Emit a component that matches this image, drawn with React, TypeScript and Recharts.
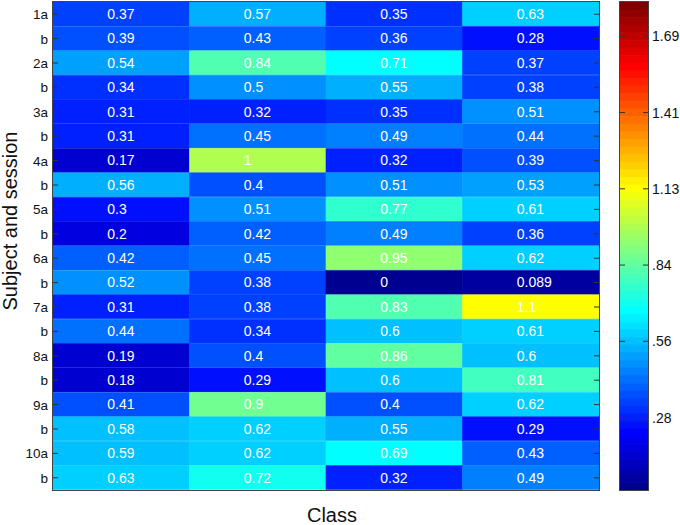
import { Bar, BarChart, Cell, LabelList, XAxis, YAxis } from "recharts";

const sessions = ["1a", "b", "2a", "b", "3a", "b", "4a", "b", "5a", "b", "6a", "b", "7a", "b", "8a", "b", "9a", "b", "10a", "b"];
const classLabels = ["1 (<.27)", "2 (<.32)", "3 (<.25)", "4 (<.37)"];
const classOne = [0.37, 0.39, 0.54, 0.34, 0.31, 0.31, 0.17, 0.56, 0.3, 0.2, 0.42, 0.52, 0.31, 0.44, 0.19, 0.18, 0.41, 0.58, 0.59, 0.63];
const classTwo = [0.57, 0.43, 0.84, 0.5, 0.32, 0.45, 1, 0.4, 0.51, 0.42, 0.45, 0.38, 0.38, 0.34, 0.4, 0.29, 0.9, 0.62, 0.62, 0.72];
const classThree = [0.35, 0.36, 0.71, 0.55, 0.35, 0.49, 0.32, 0.51, 0.77, 0.49, 0.95, 0, 0.83, 0.6, 0.86, 0.6, 0.4, 0.55, 0.69, 0.32];
const classFour = [0.63, 0.28, 0.37, 0.38, 0.51, 0.44, 0.39, 0.53, 0.61, 0.36, 0.62, 0.089, 1.13, 0.61, 0.6, 0.81, 0.62, 0.29, 0.43, 0.49];
const columns = [classOne, classTwo, classThree, classFour];
const classTicks = [0.5, 1.5, 2.5, 3.5];

// colorbar labels, keyed by the 1-based colormap level they sit on
const barTickLabels: Record<number, string> = { 10: ".28", 20: ".56", 30: ".84", 40: "1.13", 50: "1.41", 60: "1.69" };

const JET = [
  "#000090", "#0000a0", "#0000b0", "#0000c0", "#0000d0", "#0000e0", "#0000f0", "#0000ff",
  "#0010ff", "#0020ff", "#0030ff", "#0040ff", "#0050ff", "#0060ff", "#0070ff", "#0080ff",
  "#0090ff", "#00a0ff", "#00b0ff", "#00c0ff", "#00d0ff", "#00e0ff", "#00f0ff", "#00ffff",
  "#10fff0", "#20ffe0", "#30ffd0", "#40ffc0", "#50ffb0", "#60ffa0", "#70ff90", "#80ff80",
  "#90ff70", "#a0ff60", "#b0ff50", "#c0ff40", "#d0ff30", "#e0ff20", "#f0ff10", "#ffff00",
  "#fff000", "#ffe000", "#ffd000", "#ffc000", "#ffb000", "#ffa000", "#ff9000", "#ff8000",
  "#ff7000", "#ff6000", "#ff5000", "#ff4000", "#ff3000", "#ff2000", "#ff1000", "#ff0000",
  "#f00000", "#e00000", "#d00000", "#c00000", "#b00000", "#a00000", "#900000", "#800000",
];

const rows = sessions.map((session, i) => ({
  row: i,
  session,
  c0: classOne[i],
  c1: classTwo[i],
  c2: classThree[i],
  c3: classFour[i],
}));
const levels = JET.map((color, i) => ({ level: i + 1, color })).reverse();

const FONT = "Liberation Sans, Arial, sans-serif";
const TICK = "#333";
const LEFT = 53;
const RIGHT = 599;
const TOP = 2;
const BOTTOM = 490;
const BAR_LEFT = 620;
const BAR_RIGHT = 648;

const colorFor = (v: number) => JET[Math.min(63, Math.max(0, Math.round(36.5 * v - 1.5) - 1))];
const shortNum = (v: number) => String(Number(v.toPrecision(2)));

function CellText(props: any) {
  const { x, y, width, height, value } = props;
  return (
    <text x={x + width / 2 - 14} y={y + height / 2 + 5} fill="#fff" fontSize={14} fontFamily={FONT}>
      {shortNum(Number(value))}
    </text>
  );
}

function RowTick(props: any) {
  const { y, payload } = props;
  return (
    <g>
      <line x1={LEFT} x2={LEFT + 5} y1={y} y2={y} stroke={TICK} />
      <line x1={RIGHT - 5} x2={RIGHT} y1={y} y2={y} stroke={TICK} />
      <text x={LEFT - 5} y={y + 5} textAnchor="end" fontSize={13.5} fontFamily={FONT} fill="#111">
        {sessions[payload.value]}
      </text>
    </g>
  );
}

function ClassTick(props: any) {
  const { x, payload } = props;
  return (
    <g>
      <line x1={x} x2={x} y1={TOP} y2={TOP + 5} stroke={TICK} />
      <line x1={x} x2={x} y1={BOTTOM - 5} y2={BOTTOM} stroke={TICK} />
      <text x={x} y={507} textAnchor="middle" fontSize={13.5} fontFamily={FONT} fill="#111">
        {classLabels[classTicks.indexOf(payload.value)]}
      </text>
    </g>
  );
}

function LevelTick(props: any) {
  const { y, payload } = props;
  const label = barTickLabels[payload.value];
  if (!label) return <g />;
  return (
    <g>
      <line x1={BAR_LEFT} x2={BAR_LEFT + 5} y1={y} y2={y} stroke={TICK} />
      <line x1={BAR_RIGHT - 5} x2={BAR_RIGHT} y1={y} y2={y} stroke={TICK} />
      <text x={BAR_RIGHT + 4} y={y + 5} fontSize={14} fontFamily={FONT} fill="#111">
        {label}
      </text>
    </g>
  );
}

const layer: React.CSSProperties = { position: "absolute", left: 0, top: 0 };

export default function App() {
  return (
    <div style={{ position: "absolute", left: 0, top: 0, width: 680, height: 525, background: "#fff", overflow: "hidden" }}>
      {/* heatmap cells */}
      <div style={layer}>
        <BarChart
          width={680}
          height={525}
          data={rows}
          layout="vertical"
          barCategoryGap={0}
          margin={{ top: TOP, right: 680 - RIGHT, bottom: 525 - BOTTOM, left: LEFT }}
        >
          <XAxis type="number" domain={[0, 4]} hide />
          <YAxis type="category" dataKey="row" hide />
          {columns.map((col, c) => (
            <Bar key={c} dataKey={() => 1} stackId="grid" isAnimationActive={false}>
              {col.map((v, i) => (
                <Cell key={i} fill={colorFor(v)} stroke={colorFor(v)} strokeWidth={0.6} />
              ))}
              <LabelList dataKey={`c${c}`} content={<CellText />} />
            </Bar>
          ))}
        </BarChart>
      </div>

      {/* axes drawn on top of the cells, ticks point inward */}
      <div style={layer}>
        <BarChart
          width={680}
          height={525}
          data={rows}
          layout="vertical"
          barCategoryGap={0}
          margin={{ top: TOP, right: 680 - RIGHT, bottom: 0, left: 0 }}
        >
          <XAxis type="number" domain={[0, 4]} ticks={classTicks} height={525 - BOTTOM} axisLine={false} tickLine={false} tick={<ClassTick />} />
          <YAxis type="category" dataKey="row" width={LEFT} interval={0} axisLine={false} tickLine={false} tick={<RowTick />} />
        </BarChart>
      </div>

      {/* colorbar */}
      <div style={layer}>
        <BarChart
          width={680}
          height={525}
          data={levels}
          layout="vertical"
          barCategoryGap={0}
          margin={{ top: TOP, right: 680 - BAR_RIGHT, bottom: 525 - BOTTOM, left: BAR_LEFT }}
        >
          <XAxis type="number" domain={[0, 1]} hide />
          <YAxis type="category" dataKey="level" hide />
          <Bar dataKey={() => 1} isAnimationActive={false}>
            {levels.map((l) => (
              <Cell key={l.level} fill={l.color} stroke={l.color} strokeWidth={0.6} />
            ))}
          </Bar>
        </BarChart>
      </div>
      <div style={layer}>
        <BarChart
          width={680}
          height={525}
          data={levels}
          layout="vertical"
          barCategoryGap={0}
          margin={{ top: TOP, right: 680 - BAR_RIGHT, bottom: 525 - BOTTOM, left: 0 }}
        >
          <XAxis type="number" domain={[0, 1]} hide />
          <YAxis type="category" dataKey="level" width={BAR_LEFT} interval={0} axisLine={false} tickLine={false} tick={<LevelTick />} />
        </BarChart>
      </div>

      {/* frames */}
      <div style={{ position: "absolute", left: LEFT - 1, top: TOP - 1, width: RIGHT - LEFT, height: BOTTOM - TOP, border: "1px solid #444", pointerEvents: "none" }} />
      <div style={{ position: "absolute", left: BAR_LEFT - 1, top: TOP - 1, width: BAR_RIGHT - BAR_LEFT, height: BOTTOM - TOP, border: "1px solid #444", pointerEvents: "none" }} />

      <div style={{ position: "absolute", left: 0, top: 504, width: 664, textAlign: "center", fontFamily: FONT, fontSize: 20, color: "#111" }}>
        Class
      </div>
      <div
        style={{
          position: "absolute",
          left: 9.5,
          top: 221,
          transform: "translate(-50%, -50%) rotate(-90deg)",
          whiteSpace: "nowrap",
          fontFamily: FONT,
          fontSize: 20,
          lineHeight: "18px",
          color: "#111",
        }}
      >
        Subject and session
      </div>
    </div>
  );
}
